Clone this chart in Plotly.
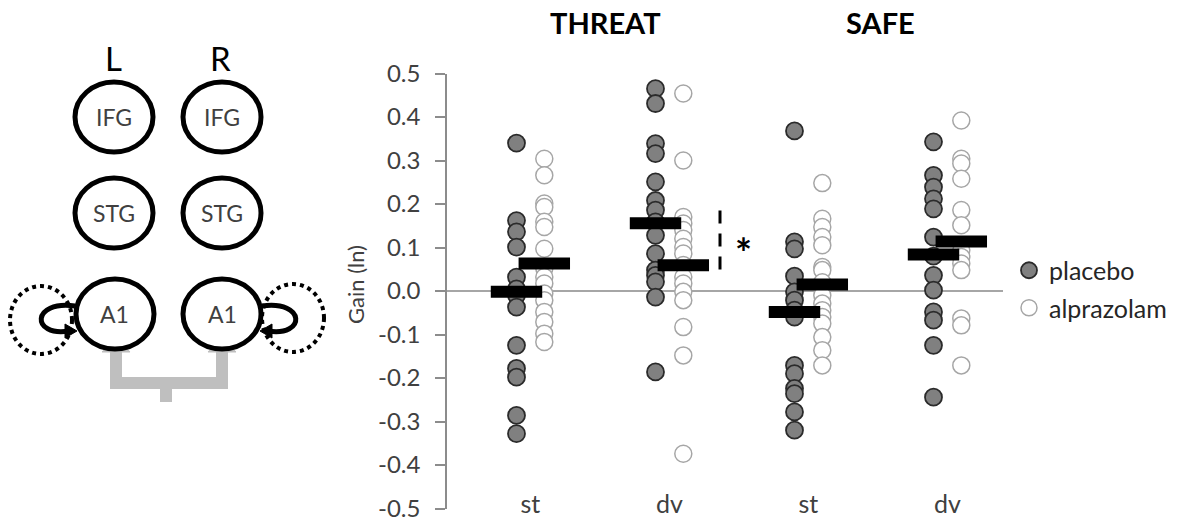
import plotly.graph_objects as go

W, H = 1193, 526

# ---------------- data ----------------
groups = ["st", "dv", "st", "dv"]
conditions = ["THREAT", "SAFE"]
series_names = ["placebo", "alprazolam"]

threat_st_placebo = [0.34, 0.162, 0.136, 0.101, 0.032, 0.005, -0.01, -0.037, -0.125, -0.178, -0.198, -0.286, -0.328]
threat_st_alprazolam = [0.304, 0.266, 0.201, 0.193, 0.159, 0.147, 0.097, 0.052, 0.032, 0.017, -0.006, -0.021, -0.048, -0.071, -0.098, -0.117]
threat_dv_placebo = [0.465, 0.431, 0.339, 0.316, 0.251, 0.208, 0.186, 0.159, 0.128, 0.086, 0.048, 0.036, 0.021, -0.014, -0.186]
threat_dv_alprazolam = [0.454, 0.300, 0.170, 0.155, 0.140, 0.120, 0.101, 0.086, 0.06, 0.032, 0.017, -0.002, -0.021, -0.083, -0.148, -0.374]
safe_st_placebo = [0.368, 0.113, 0.097, 0.034, -0.002, -0.021, -0.044, -0.060, -0.171, -0.190, -0.224, -0.236, -0.278, -0.320]
safe_st_alprazolam = [0.248, 0.166, 0.147, 0.124, 0.105, 0.055, 0.048, 0.02, -0.010, -0.029, -0.044, -0.060, -0.075, -0.106, -0.136, -0.171]
safe_dv_placebo = [0.343, 0.266, 0.239, 0.212, 0.189, 0.124, 0.08, 0.036, 0.002, -0.048, -0.067, -0.125, -0.244]
safe_dv_alprazolam = [0.392, 0.304, 0.293, 0.258, 0.186, 0.151, 0.094, 0.078, 0.063, 0.048, -0.063, -0.079, -0.171]

placebo_values = [threat_st_placebo, threat_dv_placebo, safe_st_placebo, safe_dv_placebo]
alprazolam_values = [threat_st_alprazolam, threat_dv_alprazolam, safe_st_alprazolam, safe_dv_alprazolam]

placebo_means = [-0.002, 0.156, -0.048, 0.084]
alprazolam_means = [0.063, 0.059, 0.015, 0.114]

sig_range = [0.185, 0.04]   # dashed significance marker, THREAT dv

y_ticks = [0.5, 0.4, 0.3, 0.2, 0.1, 0.0, -0.1, -0.2, -0.3, -0.4, -0.5]

# ---------------- layout helpers ----------------
PLOT_L, PLOT_R, PLOT_T, PLOT_B = 447, 1003, 73.5, 508.5
FONT = "Lato, 'Open Sans', sans-serif"
UNIT = (PLOT_R - PLOT_L) / 4.0

def px(x):
    return x / W

def py(y):
    return 1 - y / H

def dx(xpix):
    return (xpix - PLOT_L) / UNIT

OFF_P, OFF_A, BAR_HALF = 0.5, 0.7, 0.185

fig = go.Figure()

# points
for i, vals in enumerate(placebo_values):
    fig.add_trace(go.Scatter(
        x=[i + OFF_P] * len(vals), y=vals, mode="markers", name=series_names[0],
        showlegend=(i == 0), legendgroup="p",
        marker=dict(size=17, color="#808080", line=dict(color="#2b2b2b", width=1.8))))
for i, vals in enumerate(alprazolam_values):
    fig.add_trace(go.Scatter(
        x=[i + OFF_A] * len(vals), y=vals, mode="markers", name=series_names[1],
        showlegend=(i == 0), legendgroup="a",
        marker=dict(size=17, color="white", line=dict(color="#a6a6a6", width=1.5))))

# mean bars
for i, m in enumerate(placebo_means):
    c = i + OFF_P
    fig.add_trace(go.Scatter(x=[c - BAR_HALF, c + BAR_HALF], y=[m, m], mode="lines",
                             line=dict(color="black", width=12), showlegend=False, hoverinfo="skip"))
for i, m in enumerate(alprazolam_means):
    c = i + OFF_A
    fig.add_trace(go.Scatter(x=[c - BAR_HALF, c + BAR_HALF], y=[m, m], mode="lines",
                             line=dict(color="black", width=12), showlegend=False, hoverinfo="skip"))

# significance marker
sig_x = dx(720)
fig.add_trace(go.Scatter(x=[sig_x, sig_x], y=sig_range, mode="lines",
                         line=dict(color="black", width=3, dash="13px,10px"),
                         showlegend=False, hoverinfo="skip"))
fig.add_annotation(x=dx(743), y=(sig_range[0] + sig_range[1]) / 2 - 0.025, xref="x", yref="y",
                   xanchor="center", yanchor="middle",
                   text="<b>*</b>", showarrow=False, font=dict(family=FONT, size=40, color="black"))

# condition titles
for cond, xc in zip(conditions, (605, 880)):
    fig.add_annotation(x=dx(xc), y=py(22), xref="x", yref="paper", xanchor="center", yanchor="middle",
                       text="<b>%s</b>" % cond, showarrow=False,
                       font=dict(family=FONT, size=29, color="black"))

# y axis title
fig.add_annotation(x=px(355), y=py(285), xref="paper", yref="paper", text="Gain (ln)",
                   xanchor="center", yanchor="middle",
                   textangle=-90, showarrow=False, font=dict(family=FONT, size=22, color="#404040"))

# ---------------- left diagram ----------------
shapes = []
BLACK = "black"
GRAY = "#bfbfbf"

def circ(cx, cy, rx, ry, **kw):
    d = dict(type="circle", xref="paper", yref="paper",
             x0=px(cx - rx), x1=px(cx + rx), y0=py(cy + ry), y1=py(cy - ry))
    d.update(kw)
    return d

def path(pts, close=False, **kw):
    s = "M " + " L ".join("%f,%f" % (px(a), py(b)) for a, b in pts)
    if close:
        s += " Z"
    d = dict(type="path", xref="paper", yref="paper", path=s)
    d.update(kw)
    return d

# gray connection arrows
for x in (116, 222):
    shapes.append(path([(x, 352), (x, 384)], line=dict(color=GRAY, width=12)))
    shapes.append(path([(x - 14, 352), (x + 14, 352), (x, 337)], close=True,
                       fillcolor=GRAY, line=dict(color=GRAY, width=1)))
shapes.append(path([(110, 383), (228, 383)], line=dict(color=GRAY, width=12)))
shapes.append(path([(166, 383), (166, 402)], line=dict(color=GRAY, width=12)))

# dotted self-connection circles
shapes.append(circ(41, 320, 31, 34, line=dict(color=BLACK, width=4, dash="dot")))
shapes.append(circ(293, 318, 31, 34, line=dict(color=BLACK, width=4, dash="dot")))

# self loops
def loop(edge_x, direction):
    d = direction
    x_far = edge_x - d * 44
    s = "M %f,%f C %f,%f %f,%f %f,%f" % (
        px(edge_x), py(306), px(x_far), py(300), px(x_far), py(337), px(edge_x - d * 6), py(331))
    shapes.append(dict(type="path", xref="paper", yref="paper", path=s,
                       line=dict(color=BLACK, width=5)))
    tip = edge_x + d * 2
    shapes.append(path([(tip - d * 12, 324), (tip, 331), (tip - d * 12, 338)], close=True,
                       fillcolor=BLACK, line=dict(color=BLACK, width=1)))

loop(75, 1)
loop(262, -1)

# region circles
nodes = [("IFG", 114, 117), ("IFG", 222, 117), ("STG", 114, 213), ("STG", 222, 213),
         ("A1", 115, 314), ("A1", 222, 314)]
for lab, cx, cy in nodes:
    shapes.append(circ(cx, cy, 39, 35, line=dict(color=BLACK, width=5), fillcolor="white"))
    fig.add_annotation(x=px(cx), y=py(cy), xref="paper", yref="paper", text=lab, showarrow=False,
                       xanchor="center", yanchor="middle",
                       font=dict(family=FONT, size=23, color="#404040"))

for lab, cx in (("L", 113), ("R", 220)):
    fig.add_annotation(x=px(cx), y=py(58), xref="paper", yref="paper", text=lab, showarrow=False,
                       xanchor="center", yanchor="middle",
                       font=dict(family=FONT, size=33, color="black"))

# ---------------- axes ----------------
fig.update_layout(
    width=W, height=H,
    margin=dict(l=0, r=0, t=0, b=0, autoexpand=False),
    paper_bgcolor="white", plot_bgcolor="white",
    font=dict(family=FONT, color="#404040"),
    shapes=shapes,
    showlegend=True,
    legend=dict(x=px(1009), y=py(289), xanchor="left", yanchor="middle",
                font=dict(family=FONT, size=25, color="#262626"),
                bgcolor="rgba(0,0,0,0)", tracegroupgap=2, itemwidth=30),
    xaxis=dict(domain=[px(PLOT_L), px(PLOT_R)], range=[0, 4], showgrid=False, zeroline=False,
               showline=False, tickmode="array", automargin=False,
               tickvals=[i + 0.6 for i in range(4)], ticktext=groups, ticks="",
               tickfont=dict(family=FONT, size=25, color="#404040"),
               anchor="free", position=py(487), fixedrange=True),
    yaxis=dict(domain=[py(PLOT_B), py(PLOT_T)], range=[-0.5, 0.5], showgrid=False,
               zeroline=True, zerolinecolor="#a6a6a6", zerolinewidth=1.5, automargin=False,
               showline=True, linecolor="#8c8c8c", linewidth=1.5,
               ticks="outside", ticklen=10, tickcolor="#8c8c8c", tickwidth=1.5,
               tickmode="array", tickvals=y_ticks, ticktext=["%.1f" % v for v in y_ticks],
               tickfont=dict(family=FONT, size=24, color="#404040"), ticklabelstandoff=10,
               fixedrange=True),
)

fig.write_html("out.html", config={"displayModeBar": False},
               post_script="document.body.style.margin='0';document.body.style.overflow='hidden';")
